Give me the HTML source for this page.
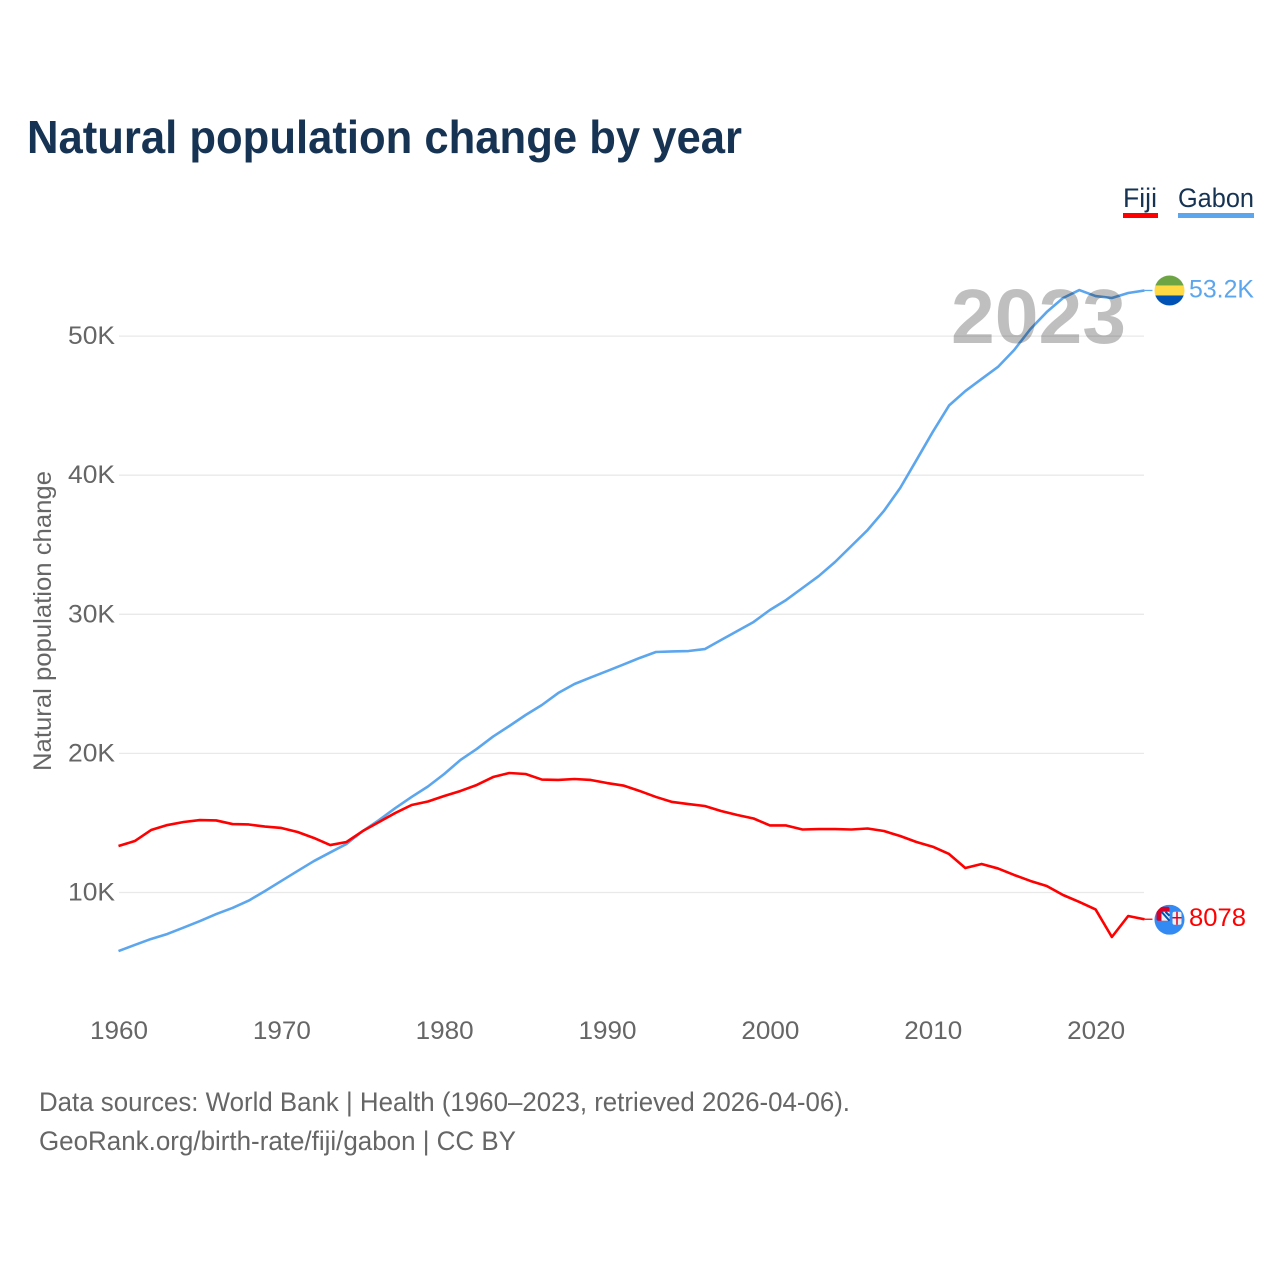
<!DOCTYPE html>
<html lang="en">
<head>
<meta charset="utf-8">
<title>Natural population change by year</title>
<style>
html,body{margin:0;padding:0;background:#fff;}
svg{display:block;font-family:"Liberation Sans",sans-serif;}
</style>
</head>
<body>
<svg id="chart" width="1280" height="1280" viewBox="0 0 1280 1280" xmlns="http://www.w3.org/2000/svg">
<defs>
<clipPath id="flagClip"><circle cx="0" cy="0" r="15"/></clipPath>
</defs>
<rect x="0" y="0" width="1280" height="1280" fill="#fff"/>
<text x="27" y="153" font-size="46" font-weight="700" fill="#163353" textLength="715" lengthAdjust="spacingAndGlyphs">Natural population change by year</text>
<g>
<text x="1123" y="207" font-size="27" fill="#163353" textLength="34" lengthAdjust="spacingAndGlyphs">Fiji</text>
<rect x="1123" y="213" width="35" height="5" fill="#ff0000"/>
</g>
<g>
<text x="1178" y="207" font-size="27" fill="#163353" textLength="76" lengthAdjust="spacingAndGlyphs">Gabon</text>
<rect x="1178" y="213" width="76" height="5" fill="#5ca6ee"/>
</g>
<g id="grid"></g>
<g id="yLabels"></g>
<g id="xLabels"></g>
<text transform="translate(51,771) rotate(-90)" font-size="25" fill="#666" textLength="300" lengthAdjust="spacingAndGlyphs">Natural population change</text>
<g id="series"></g>
<text x="951" y="343" font-size="77" font-weight="700" fill="#000" fill-opacity="0.25" textLength="175" lengthAdjust="spacingAndGlyphs">2023</text>
<g id="endLabels"></g>
<text x="39" y="1111" font-size="27" fill="#666" textLength="811" lengthAdjust="spacingAndGlyphs">Data sources: World Bank | Health (1960–2023, retrieved 2026-04-06).</text>
<text x="39" y="1150" font-size="27" fill="#666" textLength="477" lengthAdjust="spacingAndGlyphs">GeoRank.org/birth-rate/fiji/gabon | CC BY</text>
</svg>
<script>
const startYear = 1960;
const fijiValues = [13.34,13.70,14.49,14.85,15.07,15.21,15.18,14.92,14.89,14.74,14.64,14.35,13.92,13.41,13.63,14.42,15.07,15.72,16.29,16.54,16.94,17.30,17.73,18.30,18.59,18.52,18.12,18.09,18.16,18.09,17.87,17.69,17.30,16.87,16.51,16.36,16.22,15.86,15.57,15.32,14.82,14.82,14.53,14.56,14.56,14.53,14.60,14.42,14.06,13.63,13.29,12.77,11.76,12.05,11.73,11.26,10.83,10.47,9.82,9.32,8.78,6.80,8.31,8.078];
const gabonValues = [5.79,6.23,6.66,7.02,7.48,7.95,8.45,8.89,9.42,10.11,10.83,11.55,12.26,12.88,13.49,14.42,15.21,16.07,16.87,17.62,18.52,19.53,20.32,21.21,21.97,22.76,23.48,24.34,24.99,25.46,25.92,26.39,26.86,27.29,27.33,27.36,27.50,28.15,28.80,29.45,30.31,31.03,31.89,32.75,33.76,34.91,36.06,37.43,39.08,41.09,43.11,45.01,46.05,46.92,47.78,49.00,50.51,51.73,52.74,53.31,52.88,52.74,53.10,53.28];
const yTicks = [10,20,30,40,50];
const yTickLabels = ["10K","20K","30K","40K","50K"];
const xTicks = [1960,1970,1980,1990,2000,2010,2020];
const endLabelFiji = "8078";
const endLabelGabon = "53.2K";

const NS = "http://www.w3.org/2000/svg";
const xScale = function (year) { return 118.5 + (year - 1960) * 16.285; };
const yScale = function (v) { return 892.5 - (v - 10) * 13.91; };
const make = function (tag, attrs, parent) {
  const el = document.createElementNS(NS, tag);
  for (const k in attrs) el.setAttribute(k, attrs[k]);
  parent.appendChild(el);
  return el;
};
const grid = document.getElementById('grid');
const yLabels = document.getElementById('yLabels');
const xLabels = document.getElementById('xLabels');
const series = document.getElementById('series');
const endLabels = document.getElementById('endLabels');

yTicks.forEach(function (t, i) {
  const line = make('line', {x1: 119, x2: 1144, y1: yScale(t), y2: yScale(t), stroke: '#e9e9e9', 'stroke-width': 1.3}, grid);
  
  
  const label = make('text', {x: 115, y: yScale(t) + 8, 'text-anchor': 'end', 'font-size': 25, fill: '#666', textLength: 47, lengthAdjust: 'spacingAndGlyphs'}, yLabels);
  
  
  label.textContent = yTickLabels[i];
});
xTicks.forEach(function (t) {
  const label = make('text', {x: xScale(t) + 0.5, y: 1039, 'text-anchor': 'middle', 'font-size': 25, fill: '#666', textLength: 58, lengthAdjust: 'spacingAndGlyphs'}, xLabels);
  
  
  label.textContent = t;
});

const drawSeries = function (values, color) {
  const pts = values.map(function (v, i) { return xScale(startYear + i).toFixed(2) + ',' + yScale(v).toFixed(2); }).join(' ');
  const line = make('polyline', {points: pts, fill: 'none', stroke: color, 'stroke-width': 2.6, 'stroke-linejoin': 'round'}, series);
  return line;
};
const gabonLine = drawSeries(gabonValues, '#5ca6ee');


const fijiLine = drawSeries(fijiValues, '#ff0000');



const lastX = xScale(startYear + gabonValues.length - 1);
const gy = yScale(gabonValues[gabonValues.length - 1]);
const fy = yScale(fijiValues[fijiValues.length - 1]);

const gc = make('line', {x1: lastX, x2: lastX + 8, y1: gy, y2: gy, stroke: '#5ca6ee', 'stroke-width': 1.3}, endLabels);


const fc = make('line', {x1: lastX, x2: lastX + 8, y1: fy, y2: fy, stroke: '#ff0000', 'stroke-width': 1.3}, endLabels);



/* Gabon flag */
const gf = make('g', {transform: 'translate(1169.5,' + gy + ')', 'clip-path': 'url(#flagClip)'}, endLabels);


make('rect', {x: -15, y: -15, width: 30, height: 10, fill: '#6da544'}, gf);
make('rect', {x: -15, y: -5, width: 30, height: 10, fill: '#ffda44'}, gf);
make('rect', {x: -15, y: 5, width: 30, height: 10, fill: '#0052b4'}, gf);

/* Fiji flag */
const ff = make('g', {transform: 'translate(1169.5,' + (fy + 0.5) + ')', 'clip-path': 'url(#flagClip)'}, endLabels);


make('rect', {x: -15, y: -15, width: 30, height: 30, fill: '#338af3'}, ff);
make('rect', {x: -13, y: -13, width: 13, height: 14, rx: 2, fill: '#d80027'}, ff);
make('rect', {x: -8, y: -8, width: 8, height: 9, fill: '#f0f0f0'}, ff);
make('path', {d: 'M-8,-8 L0,1 M-4,-8 L0,-4', stroke: '#0052b4', 'stroke-width': 2}, ff);
make('rect', {x: 3, y: -8, width: 9, height: 13, rx: 2, fill: '#f0f0f0'}, ff);
make('path', {d: 'M7.5,-8 V5 M3,-2 H12', stroke: '#d80027', 'stroke-width': 1.5}, ff);

const gl = make('text', {x: 1189, y: gy + 7, 'font-size': 25, fill: '#5ca6ee', textLength: 65, lengthAdjust: 'spacingAndGlyphs'}, endLabels);


gl.textContent = endLabelGabon;
const fl = make('text', {x: 1189, y: fy + 7, 'font-size': 25, fill: '#ff0000', textLength: 57, lengthAdjust: 'spacingAndGlyphs'}, endLabels);


fl.textContent = endLabelFiji;
</script>
</body>
</html>
